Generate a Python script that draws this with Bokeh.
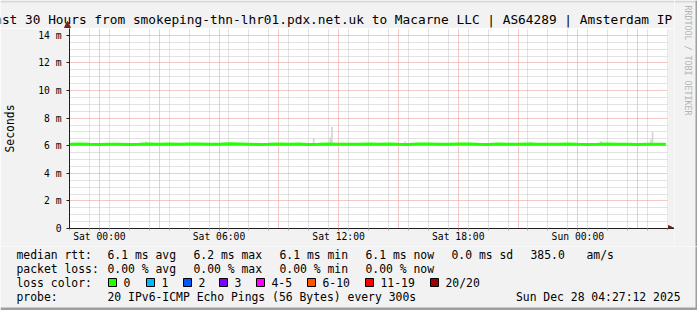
import math
import pandas as pd
from bokeh.plotting import figure
from bokeh.layouts import column, row
from bokeh.models import Range1d, FixedTicker, Label, BoxAnnotation, Arrow, NormalHead
from bokeh.embed import file_html
from bokeh.resources import INLINE

# ---------------- data ----------------
title_text = "Last 30 Hours from smokeping-thn-lhr01.pdx.net.uk to Macarne LLC | AS64289 | Amsterdam IP"
x_start = "2025-12-26 22:30"
x_end = "2025-12-28 04:30"
tick_times = ["2025-12-27 00:00", "2025-12-27 06:00", "2025-12-27 12:00",
              "2025-12-27 18:00", "2025-12-28 00:00"]
tick_labels = ["Sat 00:00", "Sat 06:00", "Sat 12:00", "Sat 18:00", "Sun 00:00"]
y_ticks = [0, 2, 4, 6, 8, 10, 12, 14]
y_tick_labels = ["0", "2 m", "4 m", "6 m", "8 m", "10 m", "12 m", "14 m"]
y_label = "Seconds"

# median RTT (ms), sampled every 30 min from Fri 22:30, last sample at Sun 04:25
median_times = list(pd.date_range("2025-12-26 22:30", "2025-12-28 04:00", freq="30min").astype(str)) + ["2025-12-28 04:25:00"]
median_rtt = [6.10, 6.13, 6.10, 6.09, 6.10, 6.10, 6.09, 6.10, 6.12, 6.11,
              6.13, 6.10, 6.12, 6.13, 6.10, 6.10, 6.14, 6.13, 6.11, 6.09,
              6.10, 6.13, 6.10, 6.12, 6.09, 6.10, 6.13, 6.10, 6.10, 6.11,
              6.13, 6.10, 6.12, 6.10, 6.09, 6.12, 6.13, 6.10, 6.10, 6.12,
              6.13, 6.10, 6.09, 6.12, 6.10, 6.10, 6.13, 6.11, 6.10, 6.10,
              6.12, 6.10, 6.09, 6.10, 6.13, 6.10, 6.10, 6.09, 6.10, 6.10,
              6.10]
# smoke (ping spread) spikes
smoke_times = ["2025-12-27 10:45", "2025-12-27 11:35", "2025-12-27 11:40",
               "2025-12-28 03:40", "2025-12-28 03:45", "2025-12-27 02:20",
               "2025-12-27 15:20", "2025-12-27 21:40", "2025-12-28 01:10"]
smoke_low = [6.00, 6.00, 6.00, 6.00, 6.00, 6.00, 6.00, 6.00, 6.00]
smoke_high = [6.55, 6.60, 7.35, 6.45, 7.00, 6.30, 6.30, 6.28, 6.32]

stat_rtt = ["6.1 ms avg", "6.2 ms max", "6.1 ms min", "6.1 ms now", "0.0 ms sd", "385.0", "am/s"]
stat_loss = ["0.00 % avg", "0.00 % max", "0.00 % min", "0.00 % now"]
loss_labels = ["0", "1", "2", "3", "4-5", "6-10", "11-19", "20/20"]
loss_colors = ["#26ff00", "#00b8ff", "#0059ff", "#7e00ff", "#ff00ff", "#ff5500", "#ff0000", "#a10000"]
probe_text = "20 IPv6-ICMP Echo Pings (56 Bytes) every 300s"
stamp_text = "Sun Dec 28 04:27:12 2025"
watermark = "RRDTOOL / TOBI OETIKER"

# ---------------- layout constants (pixels) ----------------
W, H = 697, 310
FL, FR, FT, FB = 67, 667, 28, 228      # rrdtool canvas
RX = 674                               # end of the x-axis arrow / right strip start
H_TOP, H_LEG = FT, 64
H_MAIN = H - H_LEG - H_TOP             # 218
MONO = "DejaVu Sans Mono"
BG = "#f2f2f2"
SHADE_A, SHADE_B = "#d8d8d8", "#9e9e9e"

def ms(s):
    return pd.Timestamp(s).value // 10**6

x0, x1 = ms(x_start), ms(x_end)
y0, y1 = 0.0, 14.5

def X(px):
    return x0 + (px - FL) * (x1 - x0) / (FR - FL)


def strip_fig(width, height, top_px, left_px=0):
    f = figure(width=width, height=height,
               x_range=Range1d(left_px, left_px + width), y_range=Range1d(top_px + height, top_px),
               output_backend="svg", toolbar_location=None,
               min_border_left=0, min_border_right=0, min_border_top=0, min_border_bottom=0,
               x_axis_location=None, y_axis_location=None,
               background_fill_color=BG, border_fill_color=BG, outline_line_color=None)
    f.frame_align = False
    f.xgrid.visible = False
    f.ygrid.visible = False
    f.title.visible = False
    return f


def lab(f, text, px, py, size="11.4px", align="left", color="black", angle=0.0):
    f.add_layout(Label(x=px, y=py, text=text, text_font=MONO, text_font_size=size,
                       text_align=align, text_baseline="middle", text_color=color, angle=angle))


def shade(f, l, r, t, b, c):
    f.add_layout(BoxAnnotation(left=l, right=r, top=t, bottom=b, fill_color=c,
                               fill_alpha=1, line_color=None))

# ---------------- title strip ----------------
t = strip_fig(RX, H_TOP, 0)
shade(t, 0, RX, 0, 2, SHADE_A)
lab(t, title_text, -14, 19, size="12.8px")
t.add_layout(Arrow(end=NormalHead(size=6, fill_color="#801f1f", line_color="#801f1f"),
                   x_start=FL, y_start=FT, x_end=FL, y_end=FT - 7, line_color="#1f1f1f"))

# ---------------- main chart ----------------
p = figure(width=RX, height=H_MAIN, x_axis_type="datetime",
           x_range=Range1d(x0, X(RX)), y_range=Range1d(y0, y1),
           output_backend="svg", toolbar_location=None,
           min_border_left=FL, min_border_right=0,
           min_border_top=0, min_border_bottom=H_MAIN - (FB - FT),
           background_fill_color="white", border_fill_color=BG,
           outline_line_color=None)
p.frame_align = False
p.title.visible = False

tick_ms = [ms(v) for v in tick_times]
hour_ms = [ms(v) for v in pd.date_range(x_start, x_end, freq="1h")]
three_ms = [ms(v) for v in pd.date_range("2025-12-26 21:00", x_end, freq="3h")]
p.xaxis.ticker = FixedTicker(ticks=tick_ms, minor_ticks=[h for h in hour_ms if h not in tick_ms])
p.xaxis.major_label_overrides = dict(zip(tick_ms, tick_labels))
p.xgrid.ticker = FixedTicker(ticks=three_ms, minor_ticks=[h for h in hour_ms if h not in three_ms])

y_minor = [v / 2 for v in range(0, 30) if v % 4 != 0]
p.yaxis.ticker = FixedTicker(ticks=y_ticks, minor_ticks=y_minor)
p.yaxis.major_label_overrides = dict(zip(y_ticks, y_tick_labels))
p.yaxis.axis_label = y_label
p.yaxis.axis_label_text_font = MONO
p.yaxis.axis_label_text_font_size = "11.4px"
p.yaxis.axis_label_text_font_style = "normal"
p.yaxis.axis_label_text_color = "black"
p.yaxis.axis_label_standoff = 18

for ax in (p.xaxis, p.yaxis):
    ax.axis_line_color = "#1f1f1f"
    ax.major_label_text_font = MONO
    ax.major_label_text_font_size = "9.7px"
    ax.major_label_text_color = "black"
    ax.major_tick_in = 0
    ax.minor_tick_in = 0
p.xaxis.major_tick_out = 2
p.xaxis.major_tick_line_color = "#e07070"
p.xaxis.minor_tick_out = 2
p.xaxis.minor_tick_line_color = "#b0b0b0"
p.xaxis.major_label_standoff = 0
p.yaxis.major_tick_out = 3
p.yaxis.major_tick_line_color = "#1f1f1f"
p.yaxis.minor_tick_out = 0
p.yaxis.major_label_standoff = 5

for g in (p.xgrid, p.ygrid):
    g.grid_line_color = "#eb9090"
    g.grid_line_dash = "1 1"
    g.grid_line_width = 1
    g.minor_grid_line_color = "#c4c4c4"
    g.minor_grid_line_dash = "1 1"
    g.minor_grid_line_width = 1

# grey margin right of the canvas (arrow zone)
p.quad(left=[x1], right=[p.x_range.end], bottom=[y0], top=[y1], fill_color=BG, line_color=None)

# smoke + median
p.vbar(x=[ms(v) for v in smoke_times], bottom=smoke_low, top=smoke_high,
       width=5 * 60 * 1000, fill_color="#d4d4d4", line_color=None)
p.line(x=[ms(v) for v in median_times], y=median_rtt, line_color="#26ff00", line_width=3)

p.add_layout(Arrow(end=NormalHead(size=6, fill_color="#801f1f", line_color="#801f1f"),
                   x_start=x1, y_start=y0, x_end=p.x_range.end, y_end=y0, line_color="#1f1f1f"))

# ---------------- right strip with watermark ----------------
w = strip_fig(W - RX, H_TOP + H_MAIN, 0, left_px=RX)
shade(w, RX, W, 0, 2, SHADE_A)
shade(w, W - 2, W, 0, H_TOP + H_MAIN, SHADE_B)
lab(w, watermark, 687, 5, size="8.3px", color="#b4b4b4", angle=-math.pi / 2)

# ---------------- legend / statistics strip ----------------
q = strip_fig(W, H_LEG, H_TOP + H_MAIN)
col_x = [107, 193, 279, 365, 451, 530, 586]
lab(q, "median rtt:", 16, 254)
for s, cx in zip(stat_rtt, col_x):
    lab(q, s, cx, 254)
lab(q, "packet loss:", 16, 268)
for s, cx in zip(stat_loss, col_x):
    lab(q, s, cx, 268)
lab(q, "loss color:", 16, 282)
box_x = [108, 146, 183, 219, 256, 307, 365, 430]
for s, c, bx in zip(loss_labels, loss_colors, box_x):
    q.add_layout(BoxAnnotation(left=bx, right=bx + 8, top=278, bottom=286,
                               fill_color=c, fill_alpha=1, line_color="black", line_width=1,
                               line_alpha=1))
    lab(q, s, bx + 15, 282)
lab(q, "probe:", 16, 296)
lab(q, probe_text, 107, 296)
lab(q, stamp_text, 680, 296, align="right")
shade(q, 0, W, 307, H, SHADE_B)
shade(q, W - 2, W, H_TOP + H_MAIN, H, SHADE_B)

layout = column(row(column(t, p, spacing=0), w, spacing=0), q, spacing=0)
open("out.html", "w").write(file_html(layout, INLINE))
